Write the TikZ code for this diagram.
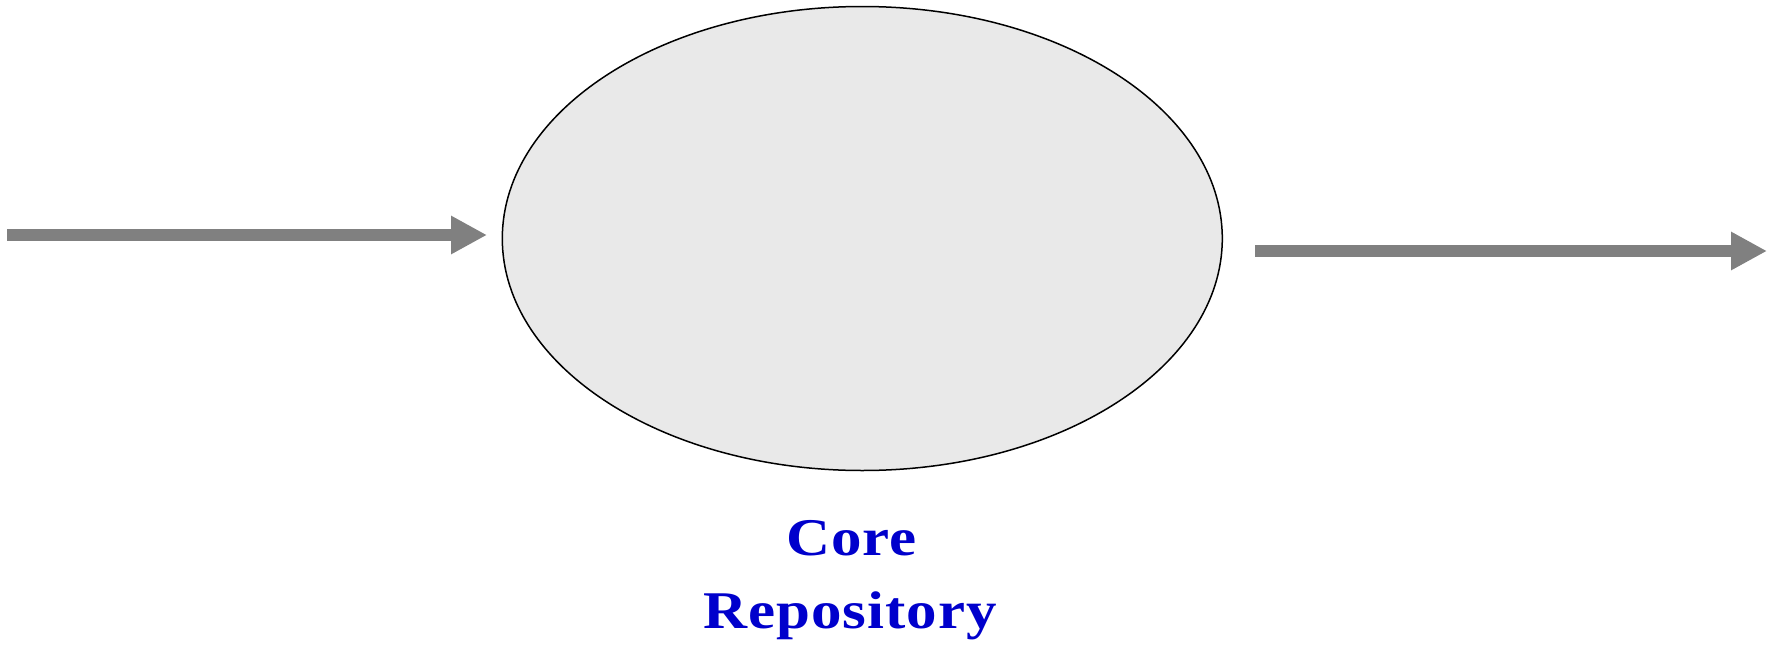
\documentclass[tikz,border=0pt]{standalone}
\usepackage{fontspec}
\setmainfont{Liberation Serif}
\newfontfamily\labelfont[LetterSpace=2,FakeStretch=1.15]{Liberation Serif}
\usetikzlibrary{shapes.geometric,arrows.meta}
\definecolor{flowgray}{HTML}{808080}
\definecolor{corefill}{HTML}{E9E9E9}
\definecolor{labelblue}{HTML}{0000CC}
\tikzset{
  flow/.style={draw=flowgray, line width=12pt, -{Triangle[length=36pt,width=36pt]}},
  store/.style={ellipse, draw=black, fill=corefill, line width=1.5pt, inner sep=0pt,
    minimum width=720pt, minimum height=464pt},
  caption/.style={text=labelblue, font=\labelfont\bfseries\fontsize{53}{63}\selectfont,
    anchor=base, inner sep=0pt}
}
\begin{document}
\begin{tikzpicture}[x=1pt,y=-1pt]
  \useasboundingbox[fill=white] (0,0) rectangle (1775,648);
  % repository ellipse
  \node[store] (core) at (862.3,238.5) {};
  % incoming and outgoing flows
  \coordinate (inStart) at (7,235);
  \coordinate (inEnd) at (487,235);
  \coordinate (outStart) at (1255,251);
  \coordinate (outEnd) at (1767,251);
  \draw[flow] (inStart) -- (inEnd);
  \draw[flow] (outStart) -- (outEnd);
  % caption below the ellipse
  \node[caption] (capA) at (851.5,555) {Core};
  \node[caption] (capB) at (850,628.3) {Repository};
\end{tikzpicture}
\end{document}
